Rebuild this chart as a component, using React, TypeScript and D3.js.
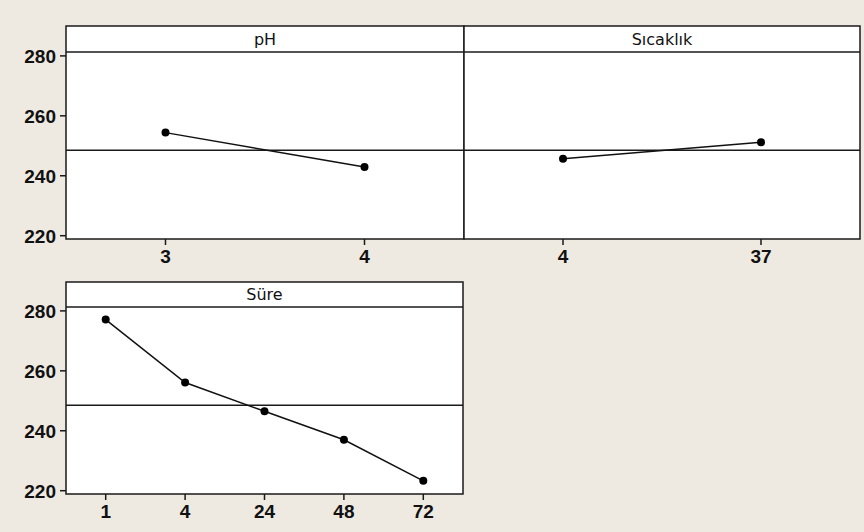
import * as d3 from "d3";

// main effects data
const phLevels = ["3", "4"];
const phMeans = [254.4, 242.9];
const tempLevels = ["4", "37"];
const tempMeans = [245.7, 251.2];
const timeLevels = ["1", "4", "24", "48", "72"];
const timeMeans = [277.1, 256.1, 246.5, 237.0, 223.3];
const yTicks = [220, 240, 260, 280];
const grandMean = 248.5;

const W = 864;
const H = 532;
const yDomain = [218.9, 281.3];
const tickFont = "'Liberation Sans', Arial, sans-serif";
const titleFont = "'DejaVu Sans', Verdana, sans-serif";

type PanelProps = {
  title: string;
  levels: string[];
  means: number[];
  left: number;
  right: number;
  top: number;
  stripBottom: number;
  bottom: number;
  showY: boolean;
};

function Panel({ title, levels, means, left, right, top, stripBottom, bottom, showY }: PanelProps) {
  const x = d3.scalePoint<string>().domain(levels).range([left, right]).padding(0.5);
  const y = d3.scaleLinear().domain(yDomain).range([bottom, stripBottom]);
  const pts = levels.map((l, i) => [x(l) as number, y(means[i])] as [number, number]);
  const line = d3.line();

  return (
    <g>
      <rect x={left} y={top} width={right - left} height={bottom - top} fill="#ffffff" />
      <line x1={left} x2={right} y1={y(grandMean)} y2={y(grandMean)} stroke="#1a1a1a" strokeWidth={1.5} />
      <path d={line(pts) || ""} fill="none" stroke="#111" strokeWidth={1.5} />
      {pts.map((p, i) => (
        <circle key={i} cx={p[0]} cy={p[1]} r={4} fill="#000" />
      ))}
      <line x1={left} x2={right} y1={stripBottom} y2={stripBottom} stroke="#1a1a1a" strokeWidth={1.5} />
      <text
        x={(left + right) / 2}
        y={(top + stripBottom) / 2}
        dy="0.36em"
        textAnchor="middle"
        fontFamily={titleFont}
        fontSize={16}
        fill="#111"
      >
        {title}
      </text>
      <rect x={left} y={top} width={right - left} height={bottom - top} fill="none" stroke="#1a1a1a" strokeWidth={1.5} />
      {showY &&
        yTicks.map((t) => (
          <g key={t}>
            <line x1={left - 6} x2={left} y1={y(t)} y2={y(t)} stroke="#1a1a1a" strokeWidth={1.5} />
            <text
              x={left - 10}
              y={y(t)}
              dy="0.36em"
              textAnchor="end"
              fontFamily={tickFont}
              fontWeight="bold"
              fontSize={19}
              fill="#111"
            >
              {t}
            </text>
          </g>
        ))}
      {levels.map((l) => (
        <g key={l}>
          <line x1={x(l)} x2={x(l)} y1={bottom} y2={bottom + 6} stroke="#1a1a1a" strokeWidth={1.5} />
          <text
            x={x(l)}
            y={bottom + 17}
            dy="0.36em"
            textAnchor="middle"
            fontFamily={tickFont}
            fontWeight="bold"
            fontSize={19}
            fill="#111"
          >
            {l}
          </text>
        </g>
      ))}
    </g>
  );
}

export default function App() {
  return (
    <svg width={W} height={H} style={{ position: "absolute", left: 0, top: 0, display: "block" }}>
      <rect x={0} y={0} width={W} height={H} fill="#eeeae2" />
      <Panel title="pH" levels={phLevels} means={phMeans} left={66} right={464} top={26} stripBottom={52} bottom={239} showY={true} />
      <Panel title="Sıcaklık" levels={tempLevels} means={tempMeans} left={464} right={860} top={26} stripBottom={52} bottom={239} showY={false} />
      <Panel title="Süre" levels={timeLevels} means={timeMeans} left={66} right={463} top={282} stripBottom={307} bottom={494} showY={true} />
    </svg>
  );
}
